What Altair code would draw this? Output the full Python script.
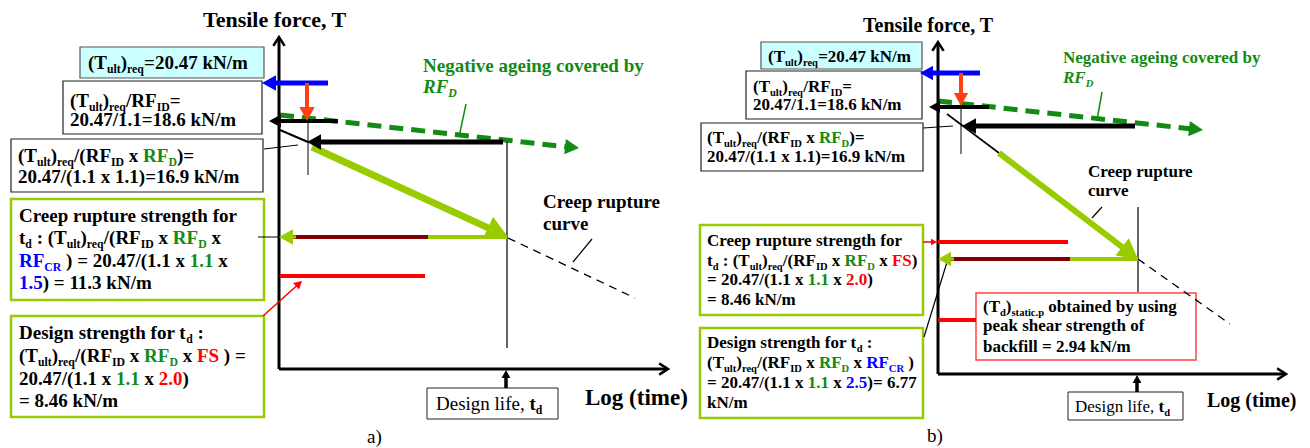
import math
import altair as alt
import pandas as pd

W, H = 1310, 448
FONT = "Liberation Serif"

BLACK = "#000000"
GREEN = "#138A13"
BLUE = "#0000FF"
RED = "#FF0000"
YG = "#99CC00"
DARKRED = "#800000"
ORANGE = "#FF4010"
CYAN = "#CCFFFF"
SUB = 0.62

# ---------------- boxes: x0, y0, x1, y1, fill, stroke, stroke width
BOXES_A = [
    (80, 47, 264, 78, CYAN, "#555555", 1.2),
    (63, 81, 262, 134, "white", "#222222", 1.2),
    (11, 139, 263, 192, "white", "#222222", 1.2),
    (11, 199, 264, 300, "white", YG, 2.5),
    (11, 316, 264, 417, "white", YG, 2.5),
    (427, 388, 558, 419, "white", "#222222", 1.0),
]
BOXES_B = [
    (761, 42, 922, 69, CYAN, "#555555", 1.2),
    (746, 71, 922, 119, "white", "#222222", 1.2),
    (701, 123, 923, 171, "white", "#222222", 1.2),
    (700, 225, 923, 315, "white", YG, 2.5),
    (700, 328, 923, 418, "white", YG, 2.5),
    (976, 293, 1196, 360, "white", "#FF4444", 1.5),
    (1068, 392, 1183, 420, "white", "#222222", 1.0),
]

# ---------------- solid lines: x1, y1, x2, y2, colour, width
LINES_A = [
    (279, 369, 279, 38, BLACK, 3),
    (279, 369, 666, 369, BLACK, 3),
    (507, 142, 507, 348, BLACK, 1.2),
    (308, 121, 308, 175, BLACK, 1),
    (280, 130, 308, 142, BLACK, 2),
    (264, 149, 298, 145, BLACK, 1),
    (258, 237, 279, 237, BLACK, 1),
    (428, 237, 507, 237, YG, 4),
    (290, 237, 428, 237, DARKRED, 4),
    (280, 276, 425, 276, RED, 4),
    (466, 104, 459, 137, GREEN, 1.5),
    (592, 239, 573, 262, BLACK, 1.2),
]
LINES_B = [
    (938, 374, 938, 43, BLACK, 3),
    (938, 374, 1284, 374, BLACK, 3),
    (1138, 207, 1138, 292, BLACK, 1.2),
    (961, 105, 961, 154, BLACK, 1),
    (947, 114, 999, 153, BLACK, 1.6),
    (923, 128, 953, 126, BLACK, 1),
    (938, 242, 1068, 242, RED, 4),
    (1070, 259, 1138, 259, YG, 4),
    (948, 259, 1070, 259, DARKRED, 4),
    (938, 320, 976, 320, RED, 4),
    (924, 337, 947, 262, BLACK, 1.2),
    (1102, 92, 1097, 120, GREEN, 1.5),
    (1102, 207, 1092, 218, BLACK, 1.2),
]

# ---------------- dashed lines: x1, y1, x2, y2
GREEN_DASH = [(280, 115, 568, 147), (938, 101, 1192, 129)]
CREEP_DASH = [(508, 238, 635, 298), (1138, 259, 1230, 324)]

# ---------------- arrows: x1, y1, tip x, tip y, colour, shaft width, head length
ARROWS = [
    (328, 83, 262, 83, BLUE, 5, 14),
    (307, 83, 307, 121, ORANGE, 4, 14),
    (338, 121, 269, 121, BLACK, 4, 12),
    (503, 142, 307, 142, BLACK, 5, 14),
    (312, 147, 508, 237, YG, 7, 22),
    (296, 237, 279, 237, YG, 3, 14),
    (263, 316, 302, 281, RED, 1.5, 8),
    (506, 388, 506, 370, BLACK, 3.5, 8),
    (560, 146, 579, 148, GREEN, 0, 14),
    (980, 73, 920, 73, BLUE, 5, 13),
    (961, 73, 961, 106, ORANGE, 4, 13),
    (989, 107, 929, 107, BLACK, 4, 11),
    (1135, 126, 962, 126, BLACK, 5, 14),
    (999, 153, 1138, 259, YG, 6, 20),
    (954, 259, 938, 259, YG, 3, 13),
    (923, 242, 937, 242, RED, 1.5, 6),
    (1137, 392, 1137, 375, BLACK, 3.5, 8),
    (1184, 128, 1203, 130, GREEN, 0, 14),
]

# ---------------- open axis arrow heads: x, y, direction (deg, 0 = up)
CHEVRONS = [(279, 37, 0), (668, 369, 90), (938, 42, 0), (1286, 374, 90)]

# ---------------- text blocks: left x, baselines, font size, lines
TEXT_BLOCKS = [
    (203, [27], 22, ["Tensile force, T"]),
    (88, [69], 19, ["(T_{ult})_{req}=20.47 kN/m"]),
    (70, [107, 126], 19, ["(T_{ult})_{req}/RF_{ID}=", "20.47/1.1=18.6 kN/m"]),
    (18, [162, 183], 19, ["(T_{ult})_{req}/(RF_{ID} x ^gRF_{D}^k)=",
                          "20.47/(1.1 x 1.1)=16.9 kN/m"]),
    (19, [222, 244, 267, 289], 19, ["Creep rupture strength for",
                                    "t_{d} : (T_{ult})_{req}/(RF_{ID} x ^gRF_{D}^k x",
                                    "^bRF_{CR}^k ) = 20.47/(1.1 x ^g1.1^k x",
                                    "^b1.5^k) = 11.3 kN/m"]),
    (19, [339, 362, 385, 407], 19, ["Design strength for t_{d} :",
                                    "(T_{ult})_{req}/(RF_{ID} x ^gRF_{D}^k x ^rFS^k ) =",
                                    "20.47/(1.1 x ^g1.1^k x ^r2.0^k)",
                                    "= 8.46 kN/m"]),
    (423, [72, 93], 19, ["^gNegative ageing covered by", "^g^IRF_{D}"]),
    (543, [208, 230], 19, ["Creep rupture", "curve"]),
    (585, [405], 23, ["Log (time)"]),
    (436, [410], 19, ["^RDesign life, ^Bt_{d}"]),
    (367, [443], 19, ["^Ra)"]),
    (863, [32], 20, ["Tensile force, T"]),
    (768, [62], 17, ["(T_{ult})_{req}=20.47 kN/m"]),
    (753, [92, 110], 17, ["(T_{ult})_{req}/RF_{ID}=", "20.47/1.1=18.6 kN/m"]),
    (707, [143, 162], 17, ["(T_{ult})_{req}/(RF_{ID} x ^gRF_{D}^k)=",
                           "20.47/(1.1 x 1.1)=16.9 kN/m"]),
    (707, [246, 266, 285, 305], 17, ["Creep rupture strength for",
                                     "t_{d} : (T_{ult})_{req}/(RF_{ID} x ^gRF_{D}^k x ^rFS^k)",
                                     "= 20.47/(1.1 x ^g1.1^k x ^r2.0^k)",
                                     "= 8.46 kN/m"]),
    (707, [348, 368, 388, 408], 17, ["Design strength for t_{d} :",
                                     "(T_{ult})_{req}/(RF_{ID} x ^gRF_{D}^k x ^bRF_{CR}^k )",
                                     "= 20.47/(1.1 x ^g1.1^k x ^b2.5^k)= 6.77",
                                     "kN/m"]),
    (983, [312, 331, 352], 17, ["(T_{d})_{static.p} obtained by using",
                                "peak shear strength of", "backfill = 2.94 kN/m"]),
    (1063, [63, 83], 17, ["^gNegative ageing covered by", "^g^IRF_{D}"]),
    (1088, [177, 196], 17, ["Creep rupture", "curve"]),
    (1207, [407], 20, ["Log (time)"]),
    (1075, [412], 17, ["^RDesign life, ^Bt_{d}"]),
    (927, [442], 19, ["^Rb)"]),
]


# ---------------- font metrics (Times / Liberation Serif)
def _tbl(spec):
    d = {}
    for chars, w in spec:
        for ch in chars:
            d[ch] = w
    return d


BOLD_W = _tbl([(" .,", 250), ("/il", 278), ("()-:ftj", 333), ("Is", 389), ("cerz", 444),
               ("0123456789agovxyJ", 500), ("Sbdhknpqu", 556), ("=", 570), ("FP", 611),
               ("BELTZ", 667), ("ACDNRUVXYw", 722), ("GHKOQ", 778), ("m", 833),
               ("M", 944), ("W", 1000)])
REG_W = _tbl([(" .,", 250), ("il", 278), ("()f", 333), ("s", 389), ("ae", 444),
              ("0123456789bgnop", 500), ("D", 722)])
BI_W = _tbl([(" ", 250), ("RF", 667), ("D", 722)])
TABLES = {"b": BOLD_W, "r": REG_W, "bi": BI_W}
COLORS = {"k": BLACK, "g": GREEN, "b": BLUE, "r": RED}
STYLES = {"B": "b", "R": "r", "I": "bi"}


def tw(s, style, size):
    t = TABLES[style]
    return sum(t.get(c, 500) for c in s) * size / 1000.0


def parse(s):
    runs, buf, color, style, i = [], "", BLACK, "b", 0
    while i < len(s):
        c = s[i]
        if c == "^":
            if buf:
                runs.append((buf, False, color, style))
                buf = ""
            k = s[i + 1]
            if k in COLORS:
                color = COLORS[k]
            else:
                style = STYLES[k]
            i += 2
            continue
        if c == "_" and i + 1 < len(s) and s[i + 1] == "{":
            if buf:
                runs.append((buf, False, color, style))
                buf = ""
            j = s.index("}", i)
            runs.append((s[i + 2:j], True, color, style))
            i = j + 1
            continue
        buf += c
        i += 1
    if buf:
        runs.append((buf, False, color, style))
    return runs


text_rows = []
for x0, baselines, size, lines in TEXT_BLOCKS:
    for yb, ln in zip(baselines, lines):
        cx = x0
        for txt, sub, color, style in parse(ln):
            fs = size * SUB if sub else size
            dy = size * 0.22 if sub else 0
            lead = len(txt) - len(txt.lstrip(" "))
            body = txt.strip(" ")
            if body:
                text_rows.append(dict(x=cx + tw(" " * lead, style, fs), y=yb + dy, text=body,
                                      size=fs, color=color, style=style))
            cx += tw(txt, style, fs)
text_df = pd.DataFrame(text_rows)

box_df = pd.DataFrame(BOXES_A + BOXES_B, columns=["x0", "y0", "x1", "y1", "fill", "stroke", "sw"])

line_rows = [dict(x1=a, y1=b, x2=c, y2=d, color=col, w=w) for a, b, c, d, col, w in LINES_A + LINES_B]
head_rows = []
for a, b, c, d, col, w, hl in ARROWS:
    dx, dy = c - a, d - b
    n = math.hypot(dx, dy)
    ux, uy = dx / n, dy / n
    if w > 0:
        line_rows.append(dict(x1=a, y1=b, x2=c - ux * hl * 0.8, y2=d - uy * hl * 0.8, color=col, w=w))
    ang = math.degrees(math.atan2(dx, -dy)) % 360
    head_rows.append(dict(x=c, y=d, color=col, ang=ang, sz=(2 * hl) ** 2))
line_df = pd.DataFrame(line_rows)
head_df = pd.DataFrame(head_rows)
chev_df = pd.DataFrame([dict(x=x, y=y, ang=a) for x, y, a in CHEVRONS])
gdash_df = pd.DataFrame(GREEN_DASH, columns=["x1", "y1", "x2", "y2"])
cdash_df = pd.DataFrame(CREEP_DASH, columns=["x1", "y1", "x2", "y2"])

XS = alt.Scale(domain=[0, W], nice=False, zero=False)
YS = alt.Scale(domain=[0, H], nice=False, zero=False, reverse=True)


def X(f):
    return alt.X(f"{f}:Q", scale=XS, axis=None)


def Y(f):
    return alt.Y(f"{f}:Q", scale=YS, axis=None)


boxes = alt.Chart(box_df).mark_rect().encode(
    x=X("x0"), x2="x1", y=Y("y0"), y2="y1",
    fill=alt.Fill("fill:N", scale=None),
    stroke=alt.Stroke("stroke:N", scale=None),
    strokeWidth=alt.StrokeWidth("sw:Q", scale=None),
)

lines = alt.Chart(line_df).mark_rule(strokeCap="butt").encode(
    x=X("x1"), y=Y("y1"), x2="x2", y2="y2",
    color=alt.Color("color:N", scale=None),
    strokeWidth=alt.StrokeWidth("w:Q", scale=None),
)

gdash = alt.Chart(gdash_df).mark_rule(strokeCap="butt", strokeWidth=5, color=GREEN,
                                      strokeDash=[14, 8]).encode(
    x=X("x1"), y=Y("y1"), x2="x2", y2="y2")
cdash = alt.Chart(cdash_df).mark_rule(strokeCap="butt", strokeWidth=1.3, color=BLACK,
                                      strokeDash=[8, 6]).encode(
    x=X("x1"), y=Y("y1"), x2="x2", y2="y2")

heads = alt.Chart(head_df).mark_point(shape="M0,0L0.55,1L-0.55,1Z", filled=True, opacity=1,
                                      strokeWidth=0).encode(
    x=X("x"), y=Y("y"),
    color=alt.Color("color:N", scale=None),
    angle=alt.Angle("ang:Q", scale=None),
    size=alt.Size("sz:Q", scale=None),
)

chevrons = alt.Chart(chev_df).mark_point(shape="M-0.7,1.1L0,0L0.7,1.1", filled=False, opacity=1,
                                         strokeWidth=2.5, color=BLACK, size=200,
                                         strokeCap="square").encode(
    x=X("x"), y=Y("y"), angle=alt.Angle("ang:Q", scale=None))

text_layers = []
for style, weight, fstyle in [("b", "bold", "normal"), ("r", "normal", "normal"), ("bi", "bold", "italic")]:
    sub = text_df[text_df["style"] == style]
    text_layers.append(
        alt.Chart(sub).mark_text(align="left", baseline="alphabetic", font=FONT,
                                 fontWeight=weight, fontStyle=fstyle).encode(
            x=X("x"), y=Y("y"), text="text:N",
            size=alt.Size("size:Q", scale=None),
            color=alt.Color("color:N", scale=None),
        )
    )

chart = alt.layer(boxes, gdash, cdash, lines, heads, chevrons, *text_layers).properties(
    width=W, height=H, padding=0, background="white",
    autosize=alt.AutoSizeParams(type="none"),
).configure_view(stroke=None)

chart.save("out.html", embed_options={"renderer": "svg", "actions": False})
